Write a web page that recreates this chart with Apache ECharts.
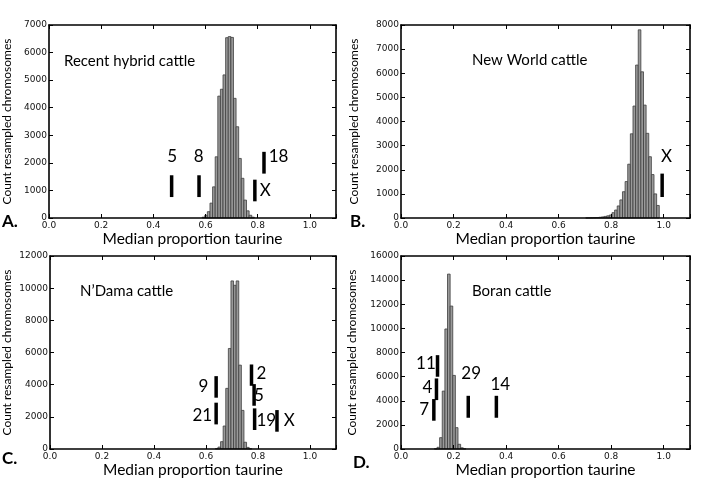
<!DOCTYPE html>
<html><head><meta charset="utf-8">
<script src="https://cdn.jsdelivr.net/npm/echarts@6/dist/echarts.min.js"></script>
<style>html,body{margin:0;padding:0;background:#fff}#c{width:728px;height:481px}</style>
</head><body><div id="c"></div>
<script>
// ---------- data ----------
const xTickLabels = ['0.0','0.2','0.4','0.6','0.8','1.0'];
const panelTitles = ['Recent hybrid cattle','New World cattle','N\u2019Dama cattle','Boran cattle'];
const panelLetters = ['A.','B.','C.','D.'];
const xAxisName = 'Median proportion taurine';
const yAxisName = 'Count resampled chromosomes';
const yMax = [7000, 8000, 12000, 16000];
const yStep = [1000, 1000, 2000, 2000];
const BIN_W = 0.01;

// histogram bin centres and counts
const binsA   = [0.592,0.602,0.612,0.622,0.632,0.642,0.652,0.662,0.672,0.682,0.692,0.702,0.712,0.722,0.732,0.742,0.752,0.762,0.772,0.782];
const countsA = [30,100,230,540,1130,2220,4420,4670,5190,6540,6580,6550,4340,3310,2160,1440,650,260,100,30];

const binsB   = [0.708,0.718,0.728,0.738,0.748,0.758,0.768,0.778,0.788,0.798,0.808,0.818,0.828,0.838,0.848,0.858,0.868,0.878,0.888,0.898,0.908,0.918,0.928,0.938,0.948,0.958,0.968,0.978];
const countsB = [4,6,9,14,20,30,45,65,90,124,220,330,500,750,1090,1510,2230,3490,4640,6340,7800,6060,4680,3510,2540,1800,1000,520];

const binsC   = [0.641,0.651,0.661,0.671,0.681,0.691,0.701,0.711,0.721,0.731,0.741,0.751,0.761,0.771];
const countsC = [30,120,455,1430,3770,6250,10450,10180,10450,5215,2400,420,100,20];

const binsD   = [0.132,0.142,0.152,0.162,0.172,0.182,0.192,0.202,0.212,0.222,0.232,0.242];
const countsD = [20,140,940,4800,9950,14500,11850,6100,1770,390,100,20];

// chromosome markers: position (x), vertical extent (lo..hi) and label anchor (data units)
const markNamesA = ['5','8','18','X'];
const markXA     = [0.470,0.575,0.824,0.789];
const markLoA    = [760,760,1610,605];
const markHiA    = [1550,1550,2400,1390];
const labelXA    = [0.472,0.574,0.880,0.829];
const labelYA    = [2215,2215,2215,980];

const markNamesB = ['X'];
const markXB     = [0.994];
const markLoB    = [870];
const markHiB    = [1840];
const labelXB    = [1.011];
const labelYB    = [2560];

const markNamesC = ['9','21','2','5','19','X'];
const markXC     = [0.639,0.639,0.775,0.785,0.787,0.873];
const markLoC    = [3190,1530,3930,2690,1180,1075];
const markHiC    = [4530,2880,5255,4035,2525,2420];
const labelXC    = [0.590,0.586,0.813,0.804,0.832,0.920];
const labelYC    = [3870,2110,4700,3310,1800,1800];

const markNamesD = ['11','4','7','29','14'];
const markXD     = [0.139,0.135,0.125,0.256,0.363];
const markLoD    = [5990,4055,2345,2590,2590];
const markHiD    = [7780,5850,4140,4410,4410];
const labelXD    = [0.095,0.101,0.088,0.267,0.378];
const labelYD    = [7090,5080,3280,6260,5380];

// ---------- chart ----------
const hist = [[binsA,countsA],[binsB,countsB],[binsC,countsC],[binsD,countsD]];
const marks = [
  [markNamesA,markXA,markLoA,markHiA,labelXA,labelYA],
  [markNamesB,markXB,markLoB,markHiB,labelXB,labelYB],
  [markNamesC,markXC,markLoC,markHiC,labelXC,labelYC],
  [markNamesD,markXD,markLoD,markHiD,labelXD,labelYD]
];
const grids = [
  {left:47, top:25, width:289, height:193},
  {left:401, top:25, width:289, height:193},
  {left:47, top:256, width:289, height:193},
  {left:401, top:256, width:289, height:193}
];
const yNameGap = [36, 41, 37, 43];
const frame = {show:true, onZero:false, lineStyle:{color:'#000', width:1.6}};
const ticks = {show:true, inside:true, length:4, lineStyle:{color:'#000', width:1}};

const xAxes = [], yAxes = [], series = [];
grids.forEach((g, i) => {
  xAxes.push({type:'value', gridIndex:i, min:0, max:1.1, interval:0.2, position:'bottom', z:5,
    axisLine:frame, axisTick:ticks, splitLine:{show:false},
    axisLabel:{margin:3, fontFamily:'DejaVu Sans', fontSize:9, color:'#111',
      formatter:v => { const k = Math.round(v/0.2); return (Math.abs(v - k*0.2) < 1e-6 && k < xTickLabels.length) ? xTickLabels[k] : ''; }},
    name:xAxisName, nameLocation:'middle', nameGap:13,
    nameTextStyle:{fontFamily:'Lato', fontSize:15.5, color:'#000', verticalAlign:'top'}});
  xAxes.push({type:'value', gridIndex:i, min:0, max:1.1, interval:0.2, position:'top', z:5,
    axisLine:frame, axisTick:ticks, splitLine:{show:false}, axisLabel:{show:false}});
  yAxes.push({type:'value', gridIndex:i, min:0, max:yMax[i], interval:yStep[i], position:'left', z:5,
    axisLine:frame, axisTick:ticks, splitLine:{show:false},
    axisLabel:{margin:2, fontFamily:'DejaVu Sans', fontSize:9, color:'#111', formatter:v => String(Math.round(v))},
    name:yAxisName, nameLocation:'middle', nameGap:yNameGap[i], nameRotate:90,
    nameTextStyle:{fontFamily:'Lato', fontSize:12, color:'#000'}});
  yAxes.push({type:'value', gridIndex:i, min:0, max:yMax[i], interval:yStep[i], position:'right', z:5,
    axisLine:frame, axisTick:ticks, splitLine:{show:false}, axisLabel:{show:false}});

  const [bins, counts] = hist[i];
  series.push({type:'custom', coordinateSystem:'cartesian2d', xAxisIndex:2*i, yAxisIndex:2*i, z:2,
    data: bins.map((b, j) => [b, counts[j]]),
    renderItem:(params, api) => {
      const x = api.value(0), c = api.value(1);
      const p0 = api.coord([x - BIN_W/2, c]);
      const p1 = api.coord([x + BIN_W/2, 0]);
      return {type:'rect', shape:{x:p0[0], y:p0[1], width:p1[0]-p0[0], height:p1[1]-p0[1]},
        style:{fill:'#9a9a9a', stroke:'#3e3e3e', lineWidth:0.8}};
    }});

  const [names, mx, lo, hi, lx, ly] = marks[i];
  series.push({type:'custom', coordinateSystem:'cartesian2d', xAxisIndex:2*i, yAxisIndex:2*i, z:4,
    data: mx.map((x, j) => [x, lo[j], hi[j], lx[j], ly[j]]),
    renderItem:(params, api) => {
      const a = api.coord([api.value(0), api.value(2)]);
      const b = api.coord([api.value(0), api.value(1)]);
      const t = api.coord([api.value(3), api.value(4)]);
      return {type:'group', children:[
        {type:'rect', shape:{x:a[0]-1.75, y:a[1], width:3.5, height:b[1]-a[1]}, style:{fill:'#000'}},
        {type:'text', x:t[0], y:t[1], style:{text:names[params.dataIndex], fontFamily:'Lato', fontSize:17,
          fill:'#000', textAlign:'center', textVerticalAlign:'middle'}}
      ]};
    }});
});

const titlePos = [[64,61],[472,60],[80,291],[472,291]];
const letterPos = [[2,213],[350,213],[2,450],[353,454]];
const graphics = [];
panelTitles.forEach((t, i) => {
  graphics.push({type:'text', x:titlePos[i][0], y:titlePos[i][1], z:10,
    style:{text:t, fontFamily:'Lato', fontSize:15, fill:'#000', textVerticalAlign:'middle'}});
  graphics.push({type:'text', x:letterPos[i][0], y:letterPos[i][1], z:10,
    style:{text:panelLetters[i], fontFamily:'Lato', fontWeight:'bold', fontSize:17, fill:'#000'}});
});

const chart = echarts.init(document.getElementById('c'), null, {renderer:'canvas'});
chart.setOption({animation:false, backgroundColor:'#fff', grid:grids, xAxis:xAxes, yAxis:yAxes,
  series:series, graphic:graphics});
</script></body></html>
